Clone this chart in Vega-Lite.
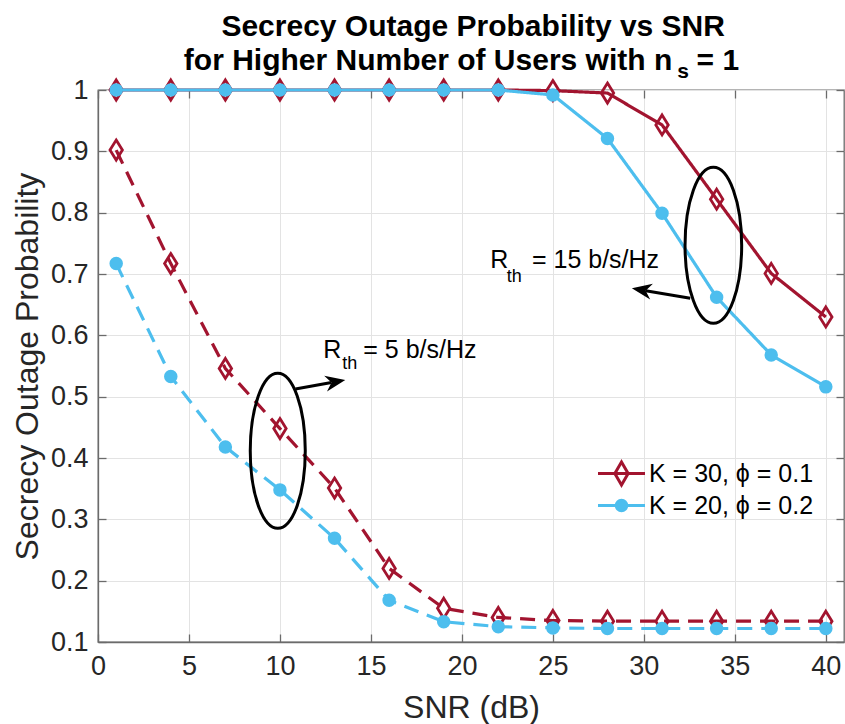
{
  "$schema": "https://vega.github.io/schema/vega-lite/v6.json",
  "width": 746,
  "height": 552,
  "autosize": {"type": "none"},
  "padding": {"left": 98, "top": 90, "right": 1, "bottom": 82},
  "background": "white",
  "config": {
    "font": "Liberation Sans",
    "view": {"stroke": "#6b6b6b", "strokeWidth": 1.3}
  },
  "datasets": {
    "curves": [
      {"snr": 1, "p": 1, "series": "K = 30, ϕ = 0.1", "rate": "15"},
      {"snr": 4, "p": 1, "series": "K = 30, ϕ = 0.1", "rate": "15"},
      {"snr": 7, "p": 1, "series": "K = 30, ϕ = 0.1", "rate": "15"},
      {"snr": 10, "p": 1, "series": "K = 30, ϕ = 0.1", "rate": "15"},
      {"snr": 13, "p": 1, "series": "K = 30, ϕ = 0.1", "rate": "15"},
      {"snr": 16, "p": 1, "series": "K = 30, ϕ = 0.1", "rate": "15"},
      {"snr": 19, "p": 1, "series": "K = 30, ϕ = 0.1", "rate": "15"},
      {"snr": 22, "p": 1, "series": "K = 30, ϕ = 0.1", "rate": "15"},
      {"snr": 25, "p": 0.999, "series": "K = 30, ϕ = 0.1", "rate": "15"},
      {"snr": 28, "p": 0.995, "series": "K = 30, ϕ = 0.1", "rate": "15"},
      {"snr": 31, "p": 0.943, "series": "K = 30, ϕ = 0.1", "rate": "15"},
      {"snr": 34, "p": 0.822, "series": "K = 30, ϕ = 0.1", "rate": "15"},
      {"snr": 37, "p": 0.701, "series": "K = 30, ϕ = 0.1", "rate": "15"},
      {"snr": 40, "p": 0.630, "series": "K = 30, ϕ = 0.1", "rate": "15"},
      {"snr": 1, "p": 0.902, "series": "K = 30, ϕ = 0.1", "rate": "5"},
      {"snr": 4, "p": 0.717, "series": "K = 30, ϕ = 0.1", "rate": "5"},
      {"snr": 7, "p": 0.546, "series": "K = 30, ϕ = 0.1", "rate": "5"},
      {"snr": 10, "p": 0.448, "series": "K = 30, ϕ = 0.1", "rate": "5"},
      {"snr": 13, "p": 0.351, "series": "K = 30, ϕ = 0.1", "rate": "5"},
      {"snr": 16, "p": 0.220, "series": "K = 30, ϕ = 0.1", "rate": "5"},
      {"snr": 19, "p": 0.155, "series": "K = 30, ϕ = 0.1", "rate": "5"},
      {"snr": 22, "p": 0.140, "series": "K = 30, ϕ = 0.1", "rate": "5"},
      {"snr": 25, "p": 0.135, "series": "K = 30, ϕ = 0.1", "rate": "5"},
      {"snr": 28, "p": 0.134, "series": "K = 30, ϕ = 0.1", "rate": "5"},
      {"snr": 31, "p": 0.134, "series": "K = 30, ϕ = 0.1", "rate": "5"},
      {"snr": 34, "p": 0.134, "series": "K = 30, ϕ = 0.1", "rate": "5"},
      {"snr": 37, "p": 0.134, "series": "K = 30, ϕ = 0.1", "rate": "5"},
      {"snr": 40, "p": 0.134, "series": "K = 30, ϕ = 0.1", "rate": "5"},
      {"snr": 1, "p": 1, "series": "K = 20, ϕ = 0.2", "rate": "15"},
      {"snr": 4, "p": 1, "series": "K = 20, ϕ = 0.2", "rate": "15"},
      {"snr": 7, "p": 1, "series": "K = 20, ϕ = 0.2", "rate": "15"},
      {"snr": 10, "p": 1, "series": "K = 20, ϕ = 0.2", "rate": "15"},
      {"snr": 13, "p": 1, "series": "K = 20, ϕ = 0.2", "rate": "15"},
      {"snr": 16, "p": 1, "series": "K = 20, ϕ = 0.2", "rate": "15"},
      {"snr": 19, "p": 1, "series": "K = 20, ϕ = 0.2", "rate": "15"},
      {"snr": 22, "p": 1, "series": "K = 20, ϕ = 0.2", "rate": "15"},
      {"snr": 25, "p": 0.992, "series": "K = 20, ϕ = 0.2", "rate": "15"},
      {"snr": 28, "p": 0.921, "series": "K = 20, ϕ = 0.2", "rate": "15"},
      {"snr": 31, "p": 0.799, "series": "K = 20, ϕ = 0.2", "rate": "15"},
      {"snr": 34, "p": 0.662, "series": "K = 20, ϕ = 0.2", "rate": "15"},
      {"snr": 37, "p": 0.568, "series": "K = 20, ϕ = 0.2", "rate": "15"},
      {"snr": 40, "p": 0.516, "series": "K = 20, ϕ = 0.2", "rate": "15"},
      {"snr": 1, "p": 0.717, "series": "K = 20, ϕ = 0.2", "rate": "5"},
      {"snr": 4, "p": 0.533, "series": "K = 20, ϕ = 0.2", "rate": "5"},
      {"snr": 7, "p": 0.418, "series": "K = 20, ϕ = 0.2", "rate": "5"},
      {"snr": 10, "p": 0.348, "series": "K = 20, ϕ = 0.2", "rate": "5"},
      {"snr": 13, "p": 0.269, "series": "K = 20, ϕ = 0.2", "rate": "5"},
      {"snr": 16, "p": 0.168, "series": "K = 20, ϕ = 0.2", "rate": "5"},
      {"snr": 19, "p": 0.133, "series": "K = 20, ϕ = 0.2", "rate": "5"},
      {"snr": 22, "p": 0.125, "series": "K = 20, ϕ = 0.2", "rate": "5"},
      {"snr": 25, "p": 0.123, "series": "K = 20, ϕ = 0.2", "rate": "5"},
      {"snr": 28, "p": 0.122, "series": "K = 20, ϕ = 0.2", "rate": "5"},
      {"snr": 31, "p": 0.122, "series": "K = 20, ϕ = 0.2", "rate": "5"},
      {"snr": 34, "p": 0.122, "series": "K = 20, ϕ = 0.2", "rate": "5"},
      {"snr": 37, "p": 0.122, "series": "K = 20, ϕ = 0.2", "rate": "5"},
      {"snr": 40, "p": 0.122, "series": "K = 20, ϕ = 0.2", "rate": "5"}
    ],
    "anchor": [{}]
  },
  "layer": [
    {
      "data": {"name": "curves"},
      "transform": [{"filter": "datum.series === 'K = 30, ϕ = 0.1'"}],
      "mark": {"type": "line", "strokeWidth": 3.2, "strokeCap": "butt"},
      "encoding": {
        "x": {
          "field": "snr", "type": "quantitative",
          "scale": {"domain": [0, 41], "nice": false, "zero": false},
          "axis": {
            "title": "SNR (dB)",
            "values": [0, 5, 10, 15, 20, 25, 30, 35, 40],
            "labelFontSize": 27, "labelColor": "#262626", "labelFlush": false, "labelOverlap": false,
            "labelPadding": 19,
            "titleFontSize": 32, "titleFontWeight": "normal", "titleColor": "#262626", "titlePadding": 13,
            "grid": true, "gridColor": "#e3e3e3", "gridWidth": 1,
            "domainColor": "#6b6b6b", "domainWidth": 1.3,
            "tickColor": "#6b6b6b", "tickWidth": 1.3, "tickSize": -8
          }
        },
        "y": {
          "field": "p", "type": "quantitative",
          "scale": {"domain": [0.1, 1], "nice": false, "zero": false},
          "axis": {
            "title": "Secrecy Outage Probability",
            "values": [0.1, 0.2, 0.3, 0.4, 0.5, 0.6, 0.7, 0.8, 0.9, 1],
            "format": ".1~f",
            "labelFontSize": 27, "labelColor": "#262626", "labelFlush": false, "labelOverlap": false,
            "labelPadding": 18,
            "titleFontSize": 32, "titleFontWeight": "normal", "titleColor": "#262626", "titlePadding": 6,
            "grid": true, "gridColor": "#e3e3e3", "gridWidth": 1,
            "domainColor": "#6b6b6b", "domainWidth": 1.3,
            "tickColor": "#6b6b6b", "tickWidth": 1.3, "tickSize": -8
          }
        },
        "color": {
          "field": "series", "type": "nominal",
          "scale": {"domain": ["K = 30, ϕ = 0.1", "K = 20, ϕ = 0.2"], "range": ["#A2142F", "#4DBEEE"]},
          "legend": {
            "title": null,
            "orient": "none",
            "legendX": 511,
            "legendY": 371,
            "padding": 0,
            "labelFontSize": 25,
            "labelFont": "Liberation Sans",
            "labelColor": "#000000",
            "labelLimit": 400,
            "labelOffset": 15,
            "rowPadding": 2,
            "symbolSize": 196,
            "symbolStrokeWidth": 3,
            "encode": {
              "symbols": {
                "update": {
                  "shape": {"signal": "datum.value === 'K = 30, ϕ = 0.1' ? 'M-3.36,0L3.36,0M0,-1.64L0.95,0L0,1.64L-0.95,0Z' : 'M-3.36,0L3.36,0M0.75,0A0.75,0.75 0 1 1 -0.75,0A0.75,0.75 0 1 1 0.75,0Z'"},
                  "fill": {"signal": "datum.value === 'K = 30, ϕ = 0.1' ? 'transparent' : '#4DBEEE'"},
                  "opacity": {"value": 1}
                }
              }
            }
          }
        },
        "strokeDash": {
          "field": "rate", "type": "nominal",
          "scale": {"domain": ["5", "15"], "range": [[15, 9], [1, 0]]},
          "legend": null
        }
      }
    },
    {
      "data": {"name": "curves"},
      "transform": [{"filter": "datum.series === 'K = 30, ϕ = 0.1'"}],
      "mark": {
        "type": "point",
        "shape": "M0,-0.87L0.54,0L0,0.87L-0.54,0Z",
        "size": 529,
        "filled": false,
        "stroke": "#A2142F",
        "strokeWidth": 2.8,
        "opacity": 1
      },
      "encoding": {
        "x": {"field": "snr", "type": "quantitative", "axis": null},
        "y": {"field": "p", "type": "quantitative", "axis": null}
      }
    },
    {
      "data": {"name": "curves"},
      "transform": [{"filter": "datum.series === 'K = 20, ϕ = 0.2'"}],
      "mark": {"type": "line", "strokeWidth": 3.2, "strokeCap": "butt"},
      "encoding": {
        "x": {"field": "snr", "type": "quantitative", "axis": null},
        "y": {"field": "p", "type": "quantitative", "axis": null},
        "color": {"field": "series", "type": "nominal"},
        "strokeDash": {"field": "rate", "type": "nominal"}
      }
    },
    {
      "data": {"name": "curves"},
      "transform": [{"filter": "datum.series === 'K = 20, ϕ = 0.2'"}],
      "mark": {
        "type": "point",
        "shape": "M0.5,0A0.5,0.5 0 1 1 -0.5,0A0.5,0.5 0 1 1 0.5,0Z",
        "size": 529,
        "filled": true,
        "fill": "#4DBEEE",
        "stroke": "#4DBEEE",
        "strokeWidth": 2,
        "opacity": 1
      },
      "encoding": {
        "x": {"field": "snr", "type": "quantitative", "axis": null},
        "y": {"field": "p", "type": "quantitative", "axis": null}
      }
    },
    {
      "data": {"name": "anchor"},
      "mark": {"type": "point", "shape": "M0,-1A0.355,1 0 1 1 0,1A0.355,1 0 1 1 0,-1Z", "size": 24025, "filled": false, "stroke": "#000000", "strokeWidth": 3, "opacity": 1},
      "encoding": {"x": {"datum": 9.88, "axis": null}, "y": {"datum": 0.4117, "axis": null}}
    },
    {
      "data": {"name": "anchor"},
      "mark": {"type": "point", "shape": "M0,-1A0.363,1 0 1 1 0,1A0.363,1 0 1 1 0,-1Z", "size": 24336, "filled": false, "stroke": "#000000", "strokeWidth": 3, "opacity": 1},
      "encoding": {"x": {"datum": 33.82, "axis": null}, "y": {"datum": 0.7467, "axis": null}}
    },
    {
      "data": {"name": "anchor"},
      "mark": {"type": "rule", "stroke": "#000000", "strokeWidth": 3},
      "encoding": {"x": {"datum": 10.85, "axis": null}, "y": {"datum": 0.5125, "axis": null}, "x2": {"datum": 12.83}, "y2": {"datum": 0.523}}
    },
    {
      "data": {"name": "anchor"},
      "mark": {"type": "point", "shape": "M0,0L-2,-0.8L-1.4,0L-2,0.8Z", "size": 400, "filled": true, "fill": "#000000", "strokeWidth": 0, "angle": -10.2, "opacity": 1},
      "encoding": {"x": {"datum": 13.59, "axis": null}, "y": {"datum": 0.527, "axis": null}}
    },
    {
      "data": {"name": "anchor"},
      "mark": {"type": "rule", "stroke": "#000000", "strokeWidth": 3},
      "encoding": {"x": {"datum": 32.55, "axis": null}, "y": {"datum": 0.6604, "axis": null}, "x2": {"datum": 30.1}, "y2": {"datum": 0.6727}}
    },
    {
      "data": {"name": "anchor"},
      "mark": {"type": "point", "shape": "M0,0L-2,-0.8L-1.4,0L-2,0.8Z", "size": 400, "filled": true, "fill": "#000000", "strokeWidth": 0, "angle": -170.3, "opacity": 1},
      "encoding": {"x": {"datum": 29.34, "axis": null}, "y": {"datum": 0.6767, "axis": null}}
    },
    {
      "data": {"name": "anchor"},
      "mark": {"type": "text", "text": "R", "font": "Liberation Sans", "fontSize": 25, "align": "left", "baseline": "alphabetic", "color": "#000000"},
      "encoding": {"x": {"datum": 12.38, "axis": null}, "y": {"datum": 0.563, "axis": null}}
    },
    {
      "data": {"name": "anchor"},
      "mark": {"type": "text", "text": "th", "font": "Liberation Sans", "fontSize": 18, "align": "left", "baseline": "alphabetic", "color": "#000000"},
      "encoding": {"x": {"datum": 13.42, "axis": null}, "y": {"datum": 0.545, "axis": null}}
    },
    {
      "data": {"name": "anchor"},
      "mark": {"type": "text", "text": "= 5 b/s/Hz", "font": "Liberation Sans", "fontSize": 25, "align": "left", "baseline": "alphabetic", "color": "#000000"},
      "encoding": {"x": {"datum": 14.58, "axis": null}, "y": {"datum": 0.563, "axis": null}}
    },
    {
      "data": {"name": "anchor"},
      "mark": {"type": "text", "text": "R", "font": "Liberation Sans", "fontSize": 25, "align": "left", "baseline": "alphabetic", "color": "#000000"},
      "encoding": {"x": {"datum": 21.56, "axis": null}, "y": {"datum": 0.7093, "axis": null}}
    },
    {
      "data": {"name": "anchor"},
      "mark": {"type": "text", "text": "th", "font": "Liberation Sans", "fontSize": 18, "align": "left", "baseline": "alphabetic", "color": "#000000"},
      "encoding": {"x": {"datum": 22.47, "axis": null}, "y": {"datum": 0.6874, "axis": null}}
    },
    {
      "data": {"name": "anchor"},
      "mark": {"type": "text", "text": "= 15 b/s/Hz", "font": "Liberation Sans", "fontSize": 25, "align": "left", "baseline": "alphabetic", "color": "#000000"},
      "encoding": {"x": {"datum": 23.85, "axis": null}, "y": {"datum": 0.7093, "axis": null}}
    },
    {
      "data": {"name": "anchor"},
      "mark": {"type": "text", "text": "Secrecy Outage Probability vs SNR", "font": "Liberation Sans", "fontSize": 30, "fontWeight": "bold", "align": "center", "baseline": "alphabetic", "color": "#000000"},
      "encoding": {"x": {"datum": 20.62, "axis": null}, "y": {"datum": 1.088, "axis": null}}
    },
    {
      "data": {"name": "anchor"},
      "mark": {"type": "text", "text": "for Higher Number of Users with n", "font": "Liberation Sans", "fontSize": 30, "fontWeight": "bold", "align": "right", "baseline": "alphabetic", "color": "#000000"},
      "encoding": {"x": {"datum": 31.56, "axis": null}, "y": {"datum": 1.0326, "axis": null}}
    },
    {
      "data": {"name": "anchor"},
      "mark": {"type": "text", "text": "s", "font": "Liberation Sans", "fontSize": 21, "fontWeight": "bold", "align": "left", "baseline": "alphabetic", "color": "#000000"},
      "encoding": {"x": {"datum": 31.83, "axis": null}, "y": {"datum": 1.02, "axis": null}}
    },
    {
      "data": {"name": "anchor"},
      "mark": {"type": "text", "text": "= 1", "font": "Liberation Sans", "fontSize": 30, "fontWeight": "bold", "align": "left", "baseline": "alphabetic", "color": "#000000"},
      "encoding": {"x": {"datum": 32.9, "axis": null}, "y": {"datum": 1.0326, "axis": null}}
    },
    {
      "data": {"name": "curves"},
      "mark": {"type": "point", "opacity": 0},
      "encoding": {
        "x": {
          "field": "snr", "type": "quantitative",
          "axis": {"orient": "top", "values": [0, 5, 10, 15, 20, 25, 30, 35, 40], "labels": false, "title": null, "grid": false, "domain": false, "tickColor": "#6b6b6b", "tickWidth": 1.3, "tickSize": -8}
        },
        "y": {
          "field": "p", "type": "quantitative",
          "axis": {"orient": "right", "values": [0.1, 0.2, 0.3, 0.4, 0.5, 0.6, 0.7, 0.8, 0.9, 1], "labels": false, "title": null, "grid": false, "domain": false, "tickColor": "#6b6b6b", "tickWidth": 1.3, "tickSize": -8}
        }
      }
    }
  ],
  "resolve": {"axis": {"x": "independent", "y": "independent"}}
}
